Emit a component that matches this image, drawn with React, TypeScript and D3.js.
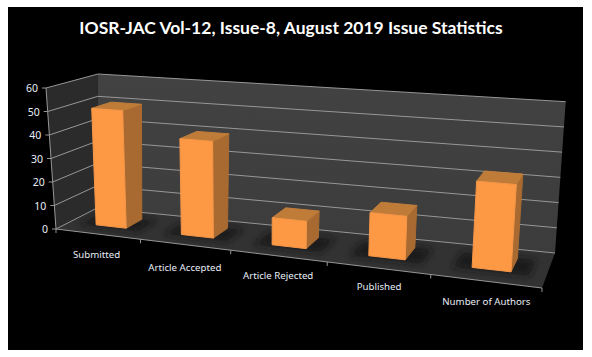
import React from "react";
import * as d3 from "d3";

const categories = ["Submitted", "Article Accepted", "Article Rejected", "Published", "Number of Authors"];
const values = [50, 40, 11, 17, 33];
const yTicks = [0, 10, 20, 30, 40, 50, 60];
const title = "IOSR-JAC Vol-12, Issue-8, August 2019 Issue Statistics";

const labelNudgeX = [-1, 0, 0, 1, 1];
const labelNudgeY = [24, 26, 23, 22, 24];

type P = [number, number];
// cube corners in the picture: [u, v, h]
const FLB: P = [56, 229], FLT: P = [46, 88], BLB: P = [97, 208], BLT: P = [98, 74];
const BRB: P = [555, 253], BRT: P = [565.7, 101.7], FRB: P = [542, 288], FRT: P = [553, 123];
const ALPHA = -0.158, BETA = 0.2;

const W = (u: number, v: number) => 1 + ALPHA * u + BETA * v;
function project(u: number, v: number, h: number): P {
  const corners: [P, number, number, number][] = [
    [FLB, 0, 0, 0], [FLT, 0, 0, 1], [BLB, 0, 1, 0], [BLT, 0, 1, 1],
    [FRB, 1, 0, 0], [FRT, 1, 0, 1], [BRB, 1, 1, 0], [BRT, 1, 1, 1],
  ];
  let x = 0, y = 0, w = 0;
  for (const [p, cu, cv, ch] of corners) {
    const k = (cu ? u : 1 - u) * (cv ? v : 1 - v) * (ch ? h : 1 - h) * W(cu, cv);
    x += p[0] * k; y += p[1] * k; w += k;
  }
  return [x / w, y / w];
}
const poly = (pts: P[]) => pts.map((p) => p[0].toFixed(2) + "," + p[1].toFixed(2)).join(" ");

const xBand = d3.scaleBand<string>().domain(categories).range([0, 1]).paddingInner(0.64).paddingOuter(0.32);
const xEdge = d3.scaleBand<string>().domain(categories).range([0, 1]);
const yScale = d3.scaleLinear().domain([0, 60]).range([0, 1]);
const V0 = 0.3, V1 = 0.7;

const FG = "#e8eef8";
const GRID = "#979797";
const SANS = "'Noto Sans', sans-serif";

export default function App() {
  return (
    <svg width={592} height={357} style={{ position: "absolute", left: 0, top: 0, background: "#fff" }}>
      <defs>
        <linearGradient id="backWall" x1="0" y1="0" x2="0" y2="1">
          <stop offset="0" stopColor="#424242" />
          <stop offset="1" stopColor="#3c3c3c" />
        </linearGradient>
        <filter id="blur" x="-30%" y="-60%" width="160%" height="220%">
          <feGaussianBlur stdDeviation="3" />
        </filter>
      </defs>
      <rect x={8} y={7} width={575} height={343} fill="#000" />
      <text x={291} y={34} textAnchor="middle" fill="#fff" fontFamily="Lato, sans-serif" fontWeight={700} fontSize={17.5}>
        {title}
      </text>

      <polygon points={poly([project(0, 0, 0), project(0, 1, 0), project(1, 1, 0), project(1, 0, 0)])} fill="#323232" />
      <polygon points={poly([project(0, 0, 0), project(0, 1, 0), project(0, 1, 1), project(0, 0, 1)])} fill="#2b2b2b" />
      <polygon points={poly([project(0, 1, 0), project(1, 1, 0), project(1, 1, 1), project(0, 1, 1)])} fill="url(#backWall)" />

      {yTicks.map((t) => {
        const h = yScale(t);
        const a = project(0, 0, h), b = project(0, 1, h), c = project(1, 1, h);
        return (
          <g key={t}>
            <polyline points={poly([a, b, c])} fill="none" stroke={GRID} strokeWidth={1} />
            <line x1={a[0] - 4} y1={a[1]} x2={a[0]} y2={a[1]} stroke={GRID} />
            <text x={a[0] - 8} y={a[1] + 4} textAnchor="end" fill={FG} fontFamily={SANS} fontSize={10.5}>{t}</text>
          </g>
        );
      })}
      <line x1={project(0, 0, 0)[0]} y1={project(0, 0, 0)[1]} x2={project(0, 0, 1)[0]} y2={project(0, 0, 1)[1]} stroke={GRID} />
      <line x1={project(0, 0, 0)[0]} y1={project(0, 0, 0)[1]} x2={project(1, 0, 0)[0]} y2={project(1, 0, 0)[1]} stroke={GRID} />
      {[...categories.map((c) => xEdge(c)!), 1].map((u, i) => {
        const p = project(u, 0, 0);
        return <line key={i} x1={p[0]} y1={p[1]} x2={p[0]} y2={p[1] + 4} stroke={GRID} />;
      })}

      {categories.map((c) => {
        const u0 = xBand(c)!, u1 = u0 + xBand.bandwidth();
        const s = 0.035;
        const shadow = [project(u0 - s, V0 - 0.06, 0), project(u1 + s, V0 - 0.06, 0), project(u1 + s, V1 + 0.02, 0), project(u0 - s, V1 + 0.02, 0)];
        return <polygon key={c} points={poly(shadow)} fill="#141414" filter="url(#blur)" opacity={0.8} />;
      })}

      {categories.map((c, i) => {
        const u0 = xBand(c)!, u1 = u0 + xBand.bandwidth();
        const h = yScale(values[i]);
        return (
          <g key={c} strokeLinejoin="round" strokeWidth={1}>
            <polygon points={poly([project(u1, V0, 0), project(u1, V1, 0), project(u1, V1, h), project(u1, V0, h)])} fill="#a86a30" stroke="#a86a30" />
            <polygon points={poly([project(u0, V0, h), project(u1, V0, h), project(u1, V1, h), project(u0, V1, h)])} fill="#bf7c39" stroke="#bf7c39" />
            <polygon points={poly([project(u0, V0, 0), project(u1, V0, 0), project(u1, V0, h), project(u0, V0, h)])} fill="#fd9944" stroke="#f59548" />
          </g>
        );
      })}

      {categories.map((c, i) => {
        const p = project(xEdge(c)! + xEdge.bandwidth() / 2, 0, 0);
        return (
          <text key={c} x={p[0] + labelNudgeX[i]} y={p[1] + labelNudgeY[i]} textAnchor="middle" fill={FG} fontFamily={SANS} fontSize={9.7}>
            {c}
          </text>
        );
      })}
    </svg>
  );
}
